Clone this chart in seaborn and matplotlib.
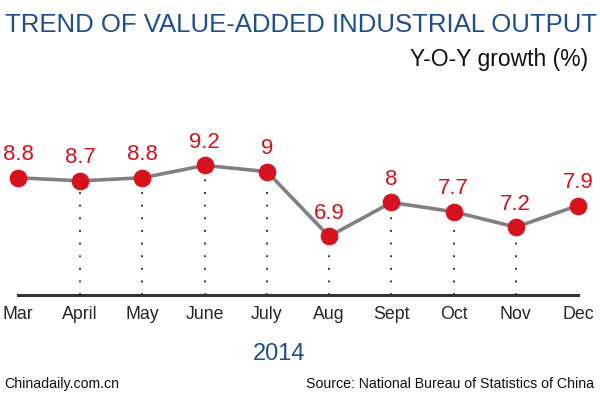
import numpy as np
import pandas as pd
import matplotlib
matplotlib.use("Agg")
import matplotlib.pyplot as plt
import seaborn as sns

months = ["Mar", "April", "May", "June", "July", "Aug", "Sept", "Oct", "Nov", "Dec"]
growth = [8.8, 8.7, 8.8, 9.2, 9.0, 6.9, 8.0, 7.7, 7.2, 7.9]

df = pd.DataFrame({"pos": np.arange(len(months)), "growth": growth})

sns.set_style("white")
plt.rcParams["font.family"] = ["Liberation Sans", "DejaVu Sans"]

red = "#d6121f"
blue = "#1f4e8c"

fig = plt.figure(figsize=(6, 3.96), dpi=100)
# axes: baseline at y=295px, from x=18 to x=578
ax = fig.add_axes([18 / 600, 101 / 396, 560 / 600, 145 / 396])

# dotted drop lines (inner months only)
for i in range(1, len(months) - 1):
    ax.vlines(i, 5, growth[i] - 0.3, colors="#222222", linestyles=(0, (1, 6)), lw=1.3, zorder=1)

sns.lineplot(data=df, x="pos", y="growth", ax=ax, color="#808080", lw=2.6,
             marker="o", markersize=12, markerfacecolor=red, markeredgecolor=red,
             clip_on=False, zorder=3)

for i, v in enumerate(growth):
    ax.annotate("{:g}".format(v), (i, v), xytext=(0, 9), textcoords="offset points",
                ha="center", va="bottom", color=red, fontsize=16, annotation_clip=False)

ax.set_xlim(0, len(months) - 1)
ax.set_ylim(5, 9.7)
ax.set_xticks(range(len(months)))
ax.set_xticklabels(months, fontsize=12.8)
ax.set_yticks([])
ax.set_xlabel("")
ax.set_ylabel("")
ax.tick_params(axis="x", length=0, pad=8)
for s in ["top", "left", "right"]:
    ax.spines[s].set_visible(False)
ax.spines["bottom"].set_color("#333333")
ax.spines["bottom"].set_linewidth(2.2)

fig.text(5 / 600, 1 - 32 / 396, "TREND OF VALUE-ADDED INDUSTRIAL OUTPUT",
         color=blue, fontsize=18.5, ha="left", va="baseline")
fig.text(588 / 600, 1 - 66 / 396, "Y-O-Y growth (%)", color="#111111",
         fontsize=16.5, ha="right", va="baseline")
fig.text(279 / 600, 1 - 360 / 396, "2014", color=blue, fontsize=17,
         ha="center", va="baseline")
fig.text(4 / 600, 1 - 388 / 396, "Chinadaily.com.cn", color="#111111",
         fontsize=10.2, ha="left", va="baseline")
fig.text(594 / 600, 1 - 388 / 396, "Source: National Bureau of Statistics of China",
         color="#111111", fontsize=10.2, ha="right", va="baseline")

fig.savefig("out.png", dpi=100, facecolor="white")
